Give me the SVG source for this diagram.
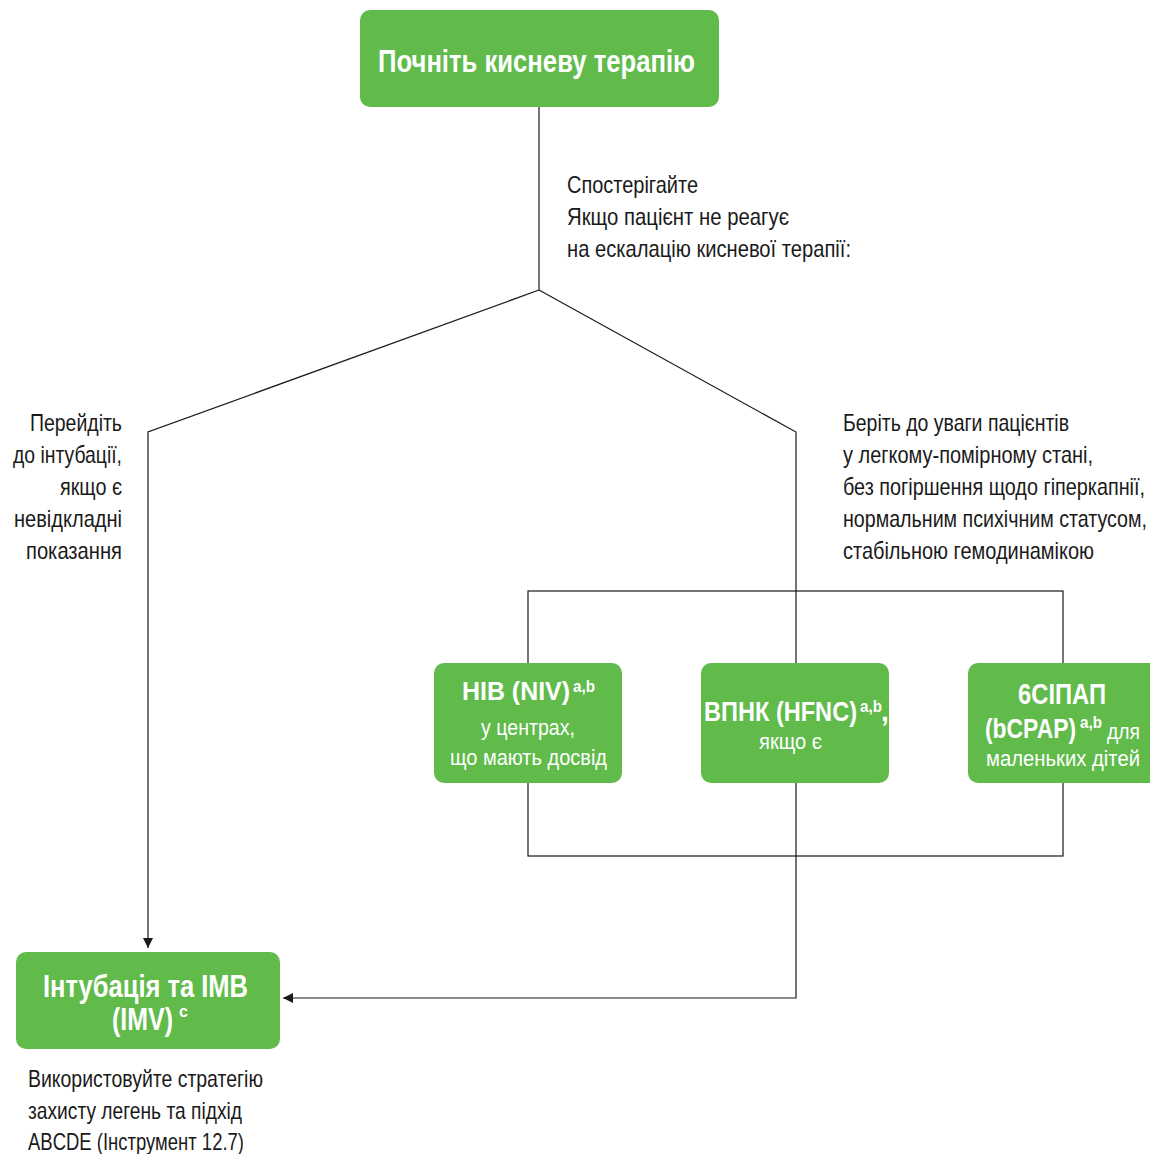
<svg xmlns="http://www.w3.org/2000/svg" width="1150" height="1154" viewBox="0 0 1150 1154">
<defs>
<style>
text{font-family:"Liberation Sans",Arial,sans-serif;}
.box{fill:#60bb4b;}
.b{fill:#fff;font-weight:bold;}
.w{fill:#fff;font-size:22px;}
.s{font-weight:bold;font-size:16px;}
.t{fill:#1a1a1a;font-size:24px;}
.ln{fill:none;stroke:#1a1a1a;stroke-width:1.2;}
</style>
<marker id="ah" viewBox="0 0 10 10" refX="10" refY="5" markerWidth="10" markerHeight="10" markerUnits="userSpaceOnUse" orient="auto"><path d="M0,0 L10,5 L0,10 z" fill="#1a1a1a"/></marker>
</defs>
<rect width="1150" height="1154" fill="#fff"/>
<g id="connectors">
<polyline class="ln" points="539,107 539,290"/>
<polyline class="ln" points="539,290 148,432 148,948" marker-end="url(#ah)"/>
<polyline class="ln" points="539,290 796,432 796,663"/>
<rect class="ln" x="528" y="591" width="535" height="265"/>
<polyline class="ln" points="796,783 796,998 283,998" marker-end="url(#ah)"/>
</g>
<g id="start">
<rect class="box" x="360" y="10" width="359" height="97" rx="10"/>
<text class="b" x="378" y="72" font-size="31" textLength="317" lengthAdjust="spacingAndGlyphs">Почніть кисневу терапію</text>
</g>
<g id="observe-label">
<text class="t" x="567" y="193" textLength="131" lengthAdjust="spacingAndGlyphs">Спостерігайте</text>
<text class="t" x="567" y="225" textLength="222" lengthAdjust="spacingAndGlyphs">Якщо пацієнт не реагує</text>
<text class="t" x="567" y="257" textLength="284" lengthAdjust="spacingAndGlyphs">на ескалацію кисневої терапії:</text>
</g>
<g id="left-label">
<text class="t" x="30" y="431" textLength="92" lengthAdjust="spacingAndGlyphs">Перейдіть</text>
<text class="t" x="13" y="463" textLength="109" lengthAdjust="spacingAndGlyphs">до інтубації,</text>
<text class="t" x="60" y="495" textLength="62" lengthAdjust="spacingAndGlyphs">якщо є</text>
<text class="t" x="14" y="527" textLength="108" lengthAdjust="spacingAndGlyphs">невідкладні</text>
<text class="t" x="26" y="559" textLength="96" lengthAdjust="spacingAndGlyphs">показання</text>
</g>
<g id="right-label">
<text class="t" x="843" y="431" textLength="226" lengthAdjust="spacingAndGlyphs">Беріть до уваги пацієнтів</text>
<text class="t" x="843" y="463" textLength="250" lengthAdjust="spacingAndGlyphs">у легкому-помірному стані,</text>
<text class="t" x="843" y="495" textLength="302" lengthAdjust="spacingAndGlyphs">без погіршення щодо гіперкапнії,</text>
<text class="t" x="843" y="527" textLength="304" lengthAdjust="spacingAndGlyphs">нормальним психічним статусом,</text>
<text class="t" x="843" y="559" textLength="251" lengthAdjust="spacingAndGlyphs">стабільною гемодинамікою</text>
</g>
<g id="niv">
<rect class="box" x="434" y="663" width="188" height="120" rx="10"/>
<text class="b" y="700" font-size="25"><tspan x="462" textLength="108" lengthAdjust="spacingAndGlyphs">НІВ (NIV)</tspan><tspan class="s" x="573" dy="-8" textLength="22" lengthAdjust="spacingAndGlyphs">a,b</tspan></text>
<text class="w" x="481" y="735" textLength="94" lengthAdjust="spacingAndGlyphs">у центрах,</text>
<text class="w" x="450" y="765" textLength="157" lengthAdjust="spacingAndGlyphs">що мають досвід</text>
</g>
<g id="hfnc">
<rect class="box" x="701" y="663" width="188" height="120" rx="10"/>
<text class="b" y="721" font-size="28"><tspan x="704" textLength="153" lengthAdjust="spacingAndGlyphs">ВПНК (HFNC)</tspan><tspan class="s" x="860" dy="-9" textLength="22" lengthAdjust="spacingAndGlyphs">a,b</tspan><tspan x="881" dy="9">,</tspan></text>
<text class="w" x="759" y="749" font-size="20" textLength="63" lengthAdjust="spacingAndGlyphs">якщо є</text>
</g>
<g id="bcpap">
<rect class="box" x="968" y="663" width="195" height="120" rx="10"/>
<text class="b" x="1018" y="704" font-size="29" textLength="88" lengthAdjust="spacingAndGlyphs">6СІПАП</text>
<text class="b" y="738" font-size="28"><tspan x="985" textLength="91" lengthAdjust="spacingAndGlyphs">(bCPAP)</tspan><tspan class="s" x="1080" dy="-10" textLength="22" lengthAdjust="spacingAndGlyphs">a,b</tspan><tspan x="1107" dy="11" font-size="22" font-weight="normal" textLength="33" lengthAdjust="spacingAndGlyphs">для</tspan></text>
<text class="w" x="986" y="766" textLength="154" lengthAdjust="spacingAndGlyphs">маленьких дітей</text>
</g>
<g id="imv">
<rect class="box" x="16" y="952" width="264" height="97" rx="10"/>
<text class="b" x="43" y="997" font-size="31" textLength="205" lengthAdjust="spacingAndGlyphs">Інтубація та IMB</text>
<text class="b" y="1030" font-size="31"><tspan x="112" textLength="61" lengthAdjust="spacingAndGlyphs">(IMV)</tspan><tspan class="s" x="179" dy="-13">c</tspan></text>
</g>
<g id="imv-note">
<text class="t" x="28" y="1087" textLength="235" lengthAdjust="spacingAndGlyphs">Використовуйте стратегію</text>
<text class="t" x="28" y="1119" textLength="214" lengthAdjust="spacingAndGlyphs">захисту легень та підхід</text>
<text class="t" x="28" y="1150" textLength="216" lengthAdjust="spacingAndGlyphs">ABCDE (Інструмент 12.7)</text>
</g>
</svg>
